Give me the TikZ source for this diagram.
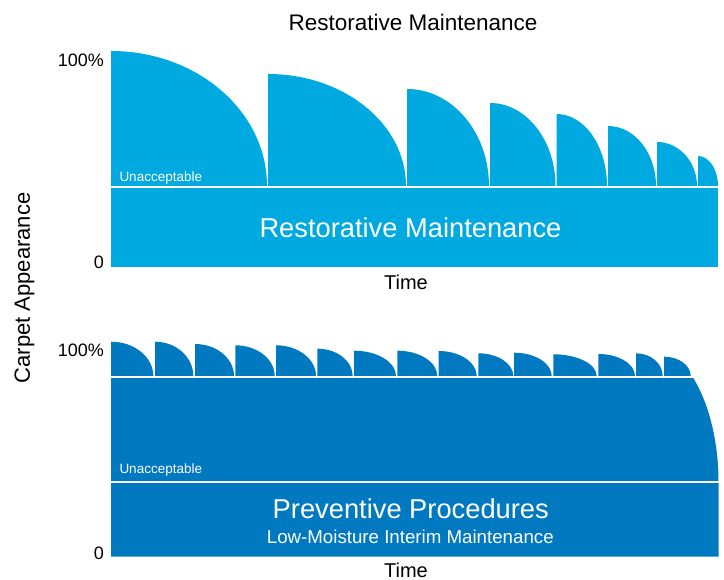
\documentclass[tikz,border=0pt]{standalone}
\usepackage{fontspec}
\setmainfont{Liberation Sans}
\usepackage{tikz}

\definecolor{restblue}{RGB}{0,169,224}
\definecolor{prevblue}{RGB}{0,121,193}

\begin{document}
\begin{tikzpicture}[x=1pt, y=1pt,
    axislabel/.style={font=\fontsize{18}{18}\selectfont, anchor=base east, inner sep=0pt},
    timelabel/.style={font=\fontsize{20}{20}\selectfont, anchor=base, inner sep=0pt},
    smalllabel/.style={font=\fontsize{13.5}{13.5}\selectfont, text=white, anchor=base west, inner sep=0pt},
    boxlabel/.style={font=\fontsize{27.3}{27.3}\selectfont, text=white, anchor=base, inner sep=0pt},
    sublabel/.style={font=\fontsize{18.7}{18.7}\selectfont, text=white, anchor=base, inner sep=0pt},
    gapline/.style={white, line width=1.6pt}]
\useasboundingbox (0,0) rectangle (724,580);

% Top chart: restorative maintenance
\fill[restblue] (111,313) rectangle (718,394);
\foreach \s/\e/\h in {111/267/135, 268/406/112, 407/489/97, 490/555.5/83,
                      556.5/607/72, 608/656/60, 657/697/44, 698/718/30} {
    \fill[restblue] (\s,394) -- (\s,394+\h)
        arc[start angle=90, end angle=0, x radius=\e-\s, y radius=\h] -- cycle;
}
\draw[gapline] (111,393) -- (718,393);

% Bottom chart: preventive procedures
\fill[prevblue] (111,23.3) -- (718.5,23.3) -- (718.5,98)
    arc[start angle=0, end angle=50, x radius=74.2, y radius=138.4] -- (111,204) -- cycle;
\foreach \s/\e/\h in {111/153.3/34.3, 155/193.3/34.3, 195/234/32, 235.3/274.7/30.7,
                      276/316/30.7, 317.3/352.7/27.3, 354/396/25.3, 397.3/437.3/25.3,
                      438.7/476.7/25, 478.3/513.3/22.7, 514/551.7/23.3, 553.3/596.7/21.7,
                      598.3/635/22, 636/662.7/22.7, 664/690.7/19.3} {
    \fill[prevblue] (\s,204) -- (\s,204+\h)
        arc[start angle=90, end angle=0, x radius=\e-\s, y radius=\h] -- cycle;
}
\draw[gapline] (111,203) -- (693,203);
\draw[gapline] (111,98) -- (719,98);

% Title and axis labels
\node[font=\fontsize{22.5}{22.5}\selectfont, anchor=base, inner sep=0pt] (title) at (413,549) {Restorative Maintenance};
\node[font=\fontsize{22}{22}\selectfont, rotate=90, anchor=base, inner sep=0pt] (yaxis) at (30,292) {Carpet Appearance};

\node[axislabel] (topmax) at (104,513.5) {100\%};
\node[axislabel] (topzero) at (104,311.7) {0};
\node[axislabel] (botmax) at (104,223.3) {100\%};
\node[axislabel] (botzero) at (104,20.7) {0};

\node[timelabel] (toptime) at (406,290.7) {Time};
\node[timelabel] (bottime) at (406,2.7) {Time};

% Labels inside the charts
\node[smalllabel] (topunacc) at (119.3,398.7) {Unacceptable};
\node[smalllabel] (botunacc) at (119.3,106) {Unacceptable};
\node[boxlabel] (restbox) at (410.5,342.7) {Restorative Maintenance};
\node[boxlabel] (prevbox) at (410.8,61) {Preventive Procedures};
\node[sublabel] (prevsub) at (410.3,36.7) {Low-Moisture Interim Maintenance};
\end{tikzpicture}
\end{document}
